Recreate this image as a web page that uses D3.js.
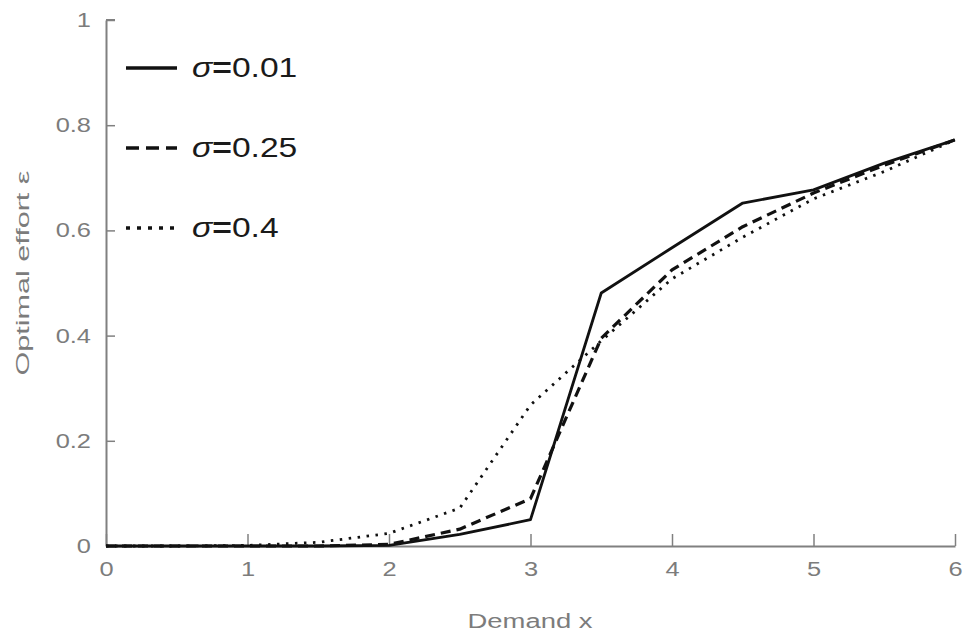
<!DOCTYPE html>
<html>
<head>
<meta charset="utf-8">
<script src="https://cdn.jsdelivr.net/npm/d3@7"></script>
<style>
body { margin: 0; background: #fff; }
svg { display: block; font-family: "Liberation Sans", Arial, sans-serif; }
</style>
</head>
<body>
<div id="body"></div>
<script>
// data
let demand = [0, 0.5, 1, 1.5, 2, 2.5, 3, 3.5, 4, 4.5, 5, 5.5, 6]
let effortLow = [0, 0, 0, 0, 0.001, 0.022, 0.05, 0.481, 0.567, 0.652, 0.677, 0.728, 0.772]
let effortMid = [0, 0, 0, 0, 0.003, 0.032, 0.09, 0.395, 0.525, 0.607, 0.671, 0.724, 0.772]
let effortHigh = [0, 0, 0.001, 0.007, 0.024, 0.072, 0.268, 0.39, 0.508, 0.587, 0.66, 0.712, 0.772]
let seriesNames = ['0.01', '0.25', '0.4']
let xTicks = [0, 1, 2, 3, 4, 5, 6]
let yTicks = [0, 0.2, 0.4, 0.6, 0.8, 1]

let size = { width: 965, height: 635 }
let axisColor = '#808080'
let labelColor = '#7c7c7c'
let stretch = 1.27 // the original lettering is wide

let svg = d3.select('#body')
  .append('svg')
  .attr('width', size.width)
  .attr('height', size.height)

let xScale = d3.scaleLinear().domain([0, 6]).range([106, 955])
let yScale = d3.scaleLinear().domain([0, 1]).range([546, 20])

// axes
let xAxis = d3.axisBottom(xScale).tickValues(xTicks).tickSizeInner(-12).tickSizeOuter(0).tickPadding(16).tickFormat(d3.format('d'))
let yAxis = d3.axisLeft(yScale).tickValues(yTicks).tickSizeInner(-9).tickSizeOuter(0).tickPadding(15).tickFormat(d => d == 0 || d == 1 ? d : d.toFixed(1))

let gX = svg.append('g').attr('transform', `translate(0,${yScale(0)})`).call(xAxis)
let gY = svg.append('g').attr('transform', `translate(${xScale(0)},0)`).call(yAxis)

// top tick of y axis
svg.append('line')
  .attr('x1', xScale(0)).attr('x2', xScale(0) + 9)
  .attr('y1', yScale(1)).attr('y2', yScale(1))
  .attr('stroke', axisColor).attr('stroke-width', 2)

;[gX, gY].forEach(g => {
  g.select('.domain').attr('stroke', axisColor).attr('stroke-width', 2)
  g.selectAll('.tick line').attr('stroke', axisColor).attr('stroke-width', 1.5)
  g.selectAll('.tick text')
    .attr('fill', labelColor)
    .attr('font-size', 20)
    .attr('transform', `scale(${stretch},1)`)
})
gY.selectAll('.tick text').attr('x', -15 / stretch)

// axis titles
svg.append('text')
  .attr('x', 530).attr('y', 628)
  .attr('text-anchor', 'middle')
  .attr('fill', labelColor).attr('font-size', 20)
  .attr('textLength', 125).attr('lengthAdjust', 'spacingAndGlyphs')
  .text('Demand x')

svg.append('text')
  .attr('transform', 'translate(29,273) rotate(-90)')
  .attr('text-anchor', 'middle')
  .attr('fill', labelColor).attr('font-size', 18)
  .attr('textLength', 205).attr('lengthAdjust', 'spacingAndGlyphs')
  .text('Optimal  effort ε')

// curves
let series = [effortLow, effortMid, effortHigh]
let dashes = [null, '10,6', '2.5,6.5']
let widths = [2.8, 3.2, 2.8]

let line = d3.line()
  .x((d, i) => xScale(demand[i]))
  .y(d => yScale(d))

svg.append('g')
  .selectAll('path')
  .data(series)
  .join('path')
  .attr('d', d => line(d))
  .attr('fill', 'none')
  .attr('stroke', '#111')
  .attr('stroke-width', (d, i) => widths[i])
  .attr('stroke-dasharray', (d, i) => dashes[i])
  .attr('stroke-linejoin', 'round')

// legend
let legDashes = [null, '13,7', '4,7']
let legend = svg.append('g')
  .selectAll('g')
  .data(seriesNames)
  .join('g')
  .attr('transform', (d, i) => `translate(126,${68 + i * 80})`)

legend.append('line')
  .attr('x1', 0).attr('x2', 51)
  .attr('stroke', '#111')
  .attr('stroke-width', 3.6)
  .attr('stroke-dasharray', (d, i) => legDashes[i])

let legText = legend.append('text')
  .attr('transform', `translate(66,9) scale(1.2,1)`)
  .attr('font-size', 28)
  .attr('fill', '#1a1a1a')
legText.append('tspan').attr('font-style', 'italic').text('σ')
legText.append('tspan').attr('font-weight', 'bold').text('=')
legText.append('tspan').text(d => d)
</script>
</body>
</html>
